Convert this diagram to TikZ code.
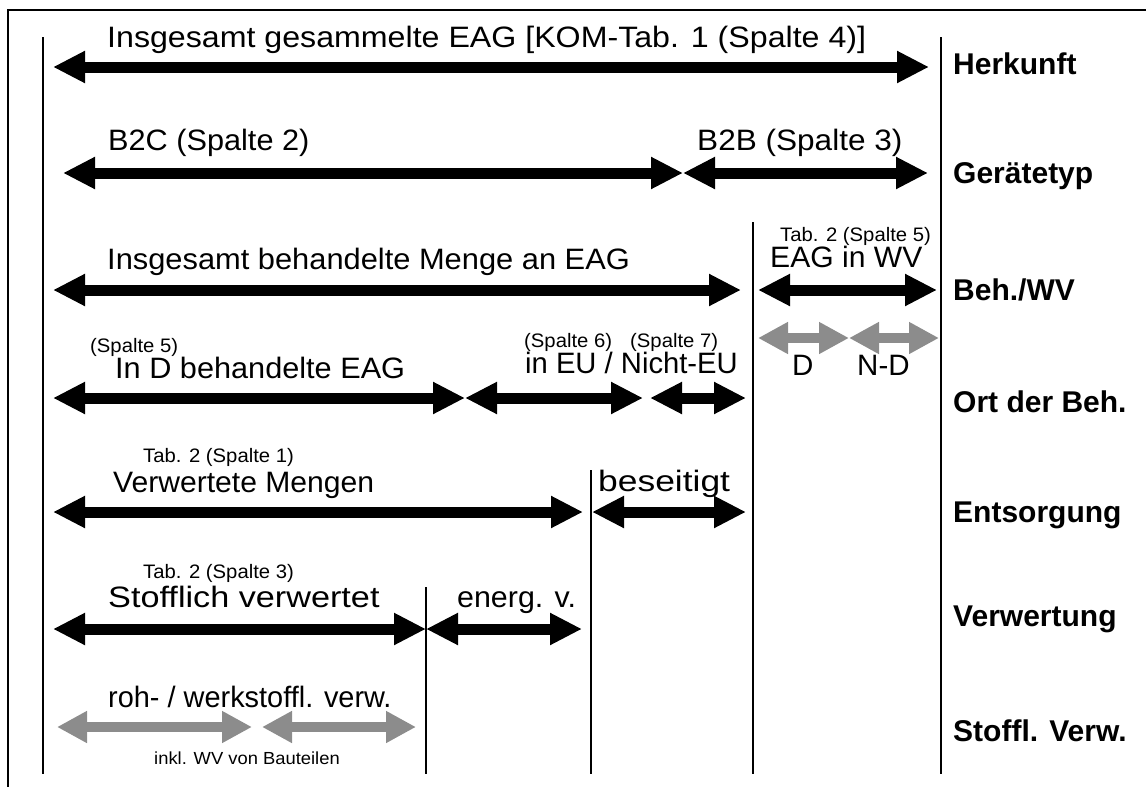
\documentclass[tikz,border=0pt]{standalone}
\usepackage{fontspec}
\setmainfont{Liberation Sans}
\usetikzlibrary{arrows.meta}
\tikzset{
  big/.style={anchor=base west, inner sep=0pt, font=\fontsize{29.5}{31}\selectfont},
  small/.style={anchor=base west, inner sep=0pt, xscale=1.04, font=\fontsize{19.5}{21}\selectfont},
  tiny/.style={anchor=base west, inner sep=0pt, xscale=1.05, font=\fontsize{17.5}{19}\selectfont},
  lab/.style={anchor=base west, inner sep=0pt, font=\fontsize{30}{32}\selectfont\bfseries},
  span/.style={line width=11pt, {Triangle[length=32pt,width=30pt]}-{Triangle[length=32pt,width=30pt]}},
  gspan/.style={line width=10pt, color=arrgray, {Triangle[length=30pt,width=30pt]}-{Triangle[length=30pt,width=30pt]}},
  sep/.style={line width=1.5pt},
}
\definecolor{arrgray}{HTML}{8C8C8C}
\begin{document}
\begin{tikzpicture}[x=1pt,y=-1pt]
\useasboundingbox (0,0) rectangle (1146,787);
% frame
\draw[line width=2pt] (7.5,795) -- (7.5,10) -- (1155,10);
% separators
\coordinate (L1) at (43,37);   \coordinate (L2) at (43,774);
\coordinate (R1) at (941,37);  \coordinate (R2) at (941,774);
\coordinate (W1) at (753,222); \coordinate (W2) at (753,774);
\coordinate (B1) at (591,470); \coordinate (B2) at (591,774);
\coordinate (E1) at (426,587); \coordinate (E2) at (426,774);
\draw[sep] (L1) -- (L2);
\draw[sep] (R1) -- (R2);
\draw[sep] (W1) -- (W2);
\draw[sep] (B1) -- (B2);
\draw[sep] (E1) -- (E2);
% row 1
\coordinate (a1) at (53,67); \coordinate (a2) at (929,67);
\draw[span] (a1) -- (a2);
\node[big, xscale=1.09] (t1) at (107,47) {Insgesamt gesammelte EAG [KOM-Tab. 1 (Spalte 4)]};
\node[lab] (h1) at (953,74) {Herkunft};
% row 2
\coordinate (b1) at (63,173); \coordinate (b2) at (683,173); \coordinate (b3) at (928,173);
\draw[span] (b1) -- (b2);
\draw[span] (b2) -- (b3);
\node[big, xscale=1.04] (t2) at (108,150) {B2C (Spalte 2)};
\node[big, xscale=1.07] (t3) at (697,150) {B2B (Spalte 3)};
\node[lab] (h2) at (953,183) {Gerätetyp};
% row 3
\coordinate (c1) at (53,290); \coordinate (c2) at (741,290);
\coordinate (c3) at (758,290); \coordinate (c4) at (937,290);
\draw[span] (c1) -- (c2);
\draw[span] (c3) -- (c4);
\node[big, xscale=1.045] (t4) at (107,269) {Insgesamt behandelte Menge an EAG};
\node[small] (t5) at (780,241) {Tab. 2 (Spalte 5)};
\node[big, xscale=1.02] (t6) at (770,267) {EAG in WV};
\node[lab] (h3) at (953,300) {Beh./WV};
% gray D / N-D
\coordinate (g1) at (758,338); \coordinate (g2) at (849,338); \coordinate (g3) at (939,338);
\draw[gspan] (g1) -- (g2);
\draw[gspan] (g2) -- (g3);
\node[big] (t7) at (792,375) {D};
\node[big] (t8) at (857,375) {N-D};
% row 4
\coordinate (d1) at (53,398); \coordinate (d2) at (465,398);
\coordinate (d3) at (643,398); \coordinate (d4) at (650,398); \coordinate (d5) at (746,398);
\draw[span] (d1) -- (d2);
\draw[span] (d2) -- (d3);
\draw[span] (d4) -- (d5);
\node[small] (t9) at (90,352) {(Spalte 5)};
\node[big, xscale=1.04] (t10) at (115,378) {In D behandelte EAG};
\node[small] (t11) at (524,347) {(Spalte 6)};
\node[small] (t12) at (630,347) {(Spalte 7)};
\node[big, xscale=0.99] (t13) at (525,373) {in EU / Nicht-EU};
\node[lab] (h4) at (953,412) {Ort der Beh.};
% row 5
\coordinate (e1) at (53,512); \coordinate (e2) at (583,512);
\coordinate (e3) at (592,512); \coordinate (e4) at (746,512);
\draw[span] (e1) -- (e2);
\draw[span] (e3) -- (e4);
\node[small] (t14) at (143,462) {Tab. 2 (Spalte 1)};
\node[big, xscale=1.02] (t15) at (113,492) {Verwertete Mengen};
\node[big, xscale=1.2] (t16) at (598,491) {beseitigt};
\node[lab] (h5) at (953,522) {Entsorgung};
% row 6
\coordinate (f1) at (53,629); \coordinate (f2) at (426,629); \coordinate (f3) at (582,629);
\draw[span] (f1) -- (f2);
\draw[span] (f2) -- (f3);
\node[small] (t17) at (143,578) {Tab. 2 (Spalte 3)};
\node[big, xscale=1.16] (t18) at (108,607) {Stofflich verwertet};
\node[big, xscale=1.03] (t19) at (457,607) {energ. v.};
\node[lab] (h6) at (953,626) {Verwertung};
% row 7
\coordinate (k1) at (57,727); \coordinate (k2) at (252,727);
\coordinate (k3) at (262,727); \coordinate (k4) at (416,727);
\draw[gspan] (k1) -- (k2);
\draw[gspan] (k3) -- (k4);
\node[big, xscale=0.98] (t20) at (108,707) {roh- / werkstoffl. verw.};
\node[tiny] (t21) at (154,764) {inkl. WV von Bauteilen};
\node[lab] (h7) at (953,741) {Stoffl. Verw.};
\end{tikzpicture}
\end{document}
